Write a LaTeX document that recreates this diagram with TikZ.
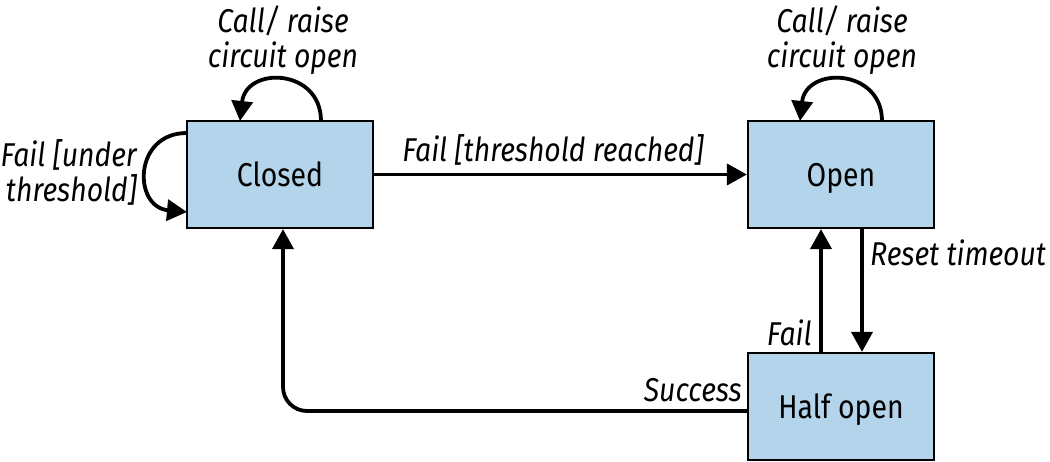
\documentclass[tikz,border=0pt]{standalone}
\usepackage{fontspec}
\setmainfont[FakeStretch=0.86]{Fira Sans}
\usetikzlibrary{arrows.meta}
\definecolor{boxblue}{RGB}{179,212,234}
\tikzset{
  state/.style={draw=black, line width=2.2pt, fill=boxblue, minimum width=186pt, minimum height=107pt, inner sep=0pt, text height=24pt, text depth=0pt, font=\fontsize{33}{35}\selectfont},
  lbl/.style={font=\fontsize{33}{35}\selectfont\itshape, inner sep=0pt},
  arr/.style={line width=3.8pt, -{Triangle[length=20pt,width=21pt]}},
}
\begin{document}
\begin{tikzpicture}[x=1pt,y=-1pt]
\useasboundingbox (0,0) rectangle (1050,462);
\node[state] (closed) at (280,174.5) {Closed};
\node[state] (open) at (841,174.5) {Open};
\node[state] (half) at (841,406.5) {Half open};
\coordinate (c1) at (321,121);
\coordinate (c2) at (240,121);
\coordinate (o1) at (882,121);
\coordinate (o2) at (800,121);
\coordinate (l1) at (187,133);
\coordinate (l2) at (187,212);
\draw[arr] (c1) .. controls (321,68) and (246,66) .. (c2);
\draw[arr] (o1) .. controls (882,68) and (806,66) .. (o2);
\draw[arr] (l1) .. controls (133,133) and (133,207) .. (l2);
\draw[arr] (closed.east) -- (open.west);
\draw[arr] ([xshift=21pt]open.south) -- ([xshift=21pt]half.north);
\draw[arr] ([xshift=-20pt]half.north) -- ([xshift=-20pt]open.south);
\draw[arr, rounded corners=24pt] ([yshift=-4.5pt]half.west) -| ([xshift=3pt]closed.south);
\node[lbl, align=center] (lc) at (283,40) {Call/ raise\\circuit open};
\node[lbl, align=center] (lo) at (842,40) {Call/ raise\\circuit open};
\node[lbl, align=right, anchor=east] (ll) at (137,172) {Fail [under\\threshold]};
\node[lbl] (lt) at (553,150) {Fail [threshold reached]};
\node[lbl, anchor=west] (lr) at (870,253) {Reset timeout};
\node[lbl, anchor=east] (lf) at (812,333) {Fail};
\node[lbl, anchor=east] (ls) at (742,390) {Success};
\end{tikzpicture}
\end{document}
